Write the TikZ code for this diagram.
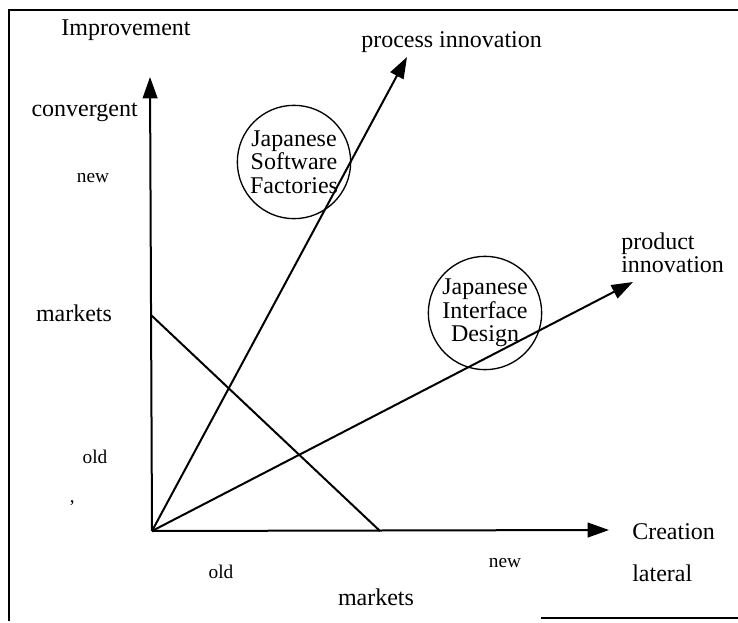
\documentclass[tikz,border=0pt]{standalone}
\usepackage{fontspec}
\setmainfont{Liberation Serif}
\usepackage{tikz}
\usetikzlibrary{positioning, arrows.meta}

\begin{document}
\begin{tikzpicture}[x=0.75pt, y=-0.75pt,
    label/.style={inner sep=0pt, font=\fontsize{18}{17.5}\selectfont},
    tick/.style={inner sep=0pt, font=\fontsize{14.5}{16}\selectfont},
    field/.style={circle, draw, line width=1pt, minimum size=85pt, inner sep=0pt, align=center,
        font=\fontsize{18}{17.5}\selectfont}]
    \useasboundingbox (0,0) rectangle (738,623);

    % frame
    \draw[line width=1pt] (738,10) -- (9,10) -- (9,621);
    \draw[line width=1pt] (541,618) -- (738,618);

    % origin and arrow tips
    \coordinate (O) at (152,531);
    \coordinate (V) at (150,77);
    \coordinate (H) at (609,530);
    \coordinate (P) at (407,57);
    \coordinate (D) at (633,282);
    \coordinate (M1) at (151,315);
    \coordinate (M2) at (380,531);

    \begin{scope}[every node/.style=field]
        \node (SF) at (294,162) {Japanese\\Software\\Factories};
        \node (ID) at (485,313) {Japanese\\Interface\\Design};
    \end{scope}

    \begin{scope}[every edge/.style={draw=black, line width=1.5pt, -{Triangle[length=16pt, width=11pt]}}]
        \path (O) edge (V);
        \path (O) edge (H);
        \path (O) edge (P);
        \path (O) edge (D);
    \end{scope}
    \draw[line width=1.5pt] (M1) -- (M2);

    % axis labels
    \begin{scope}[every node/.style=label]
        \node (imp) at (126,30) {Improvement};
        \node (conv) [anchor=east] at (138,112) {convergent};
        \node (mkt) at (74,313) {markets};
        \node (proc) [anchor=west] at (361,42) {process innovation};
        \node (prod) [align=left, anchor=west] at (621,253) {product\\innovation};
        \node (cre) [anchor=west] at (632,532) {Creation};
        \node (lat) [anchor=west] at (632,573) {lateral};
        \node (mktb) at (376,597) {markets};
    \end{scope}
    \begin{scope}[every node/.style=tick]
        \node (vnew) at (93,178) {new};
        \node (vold) at (95,457) {old};
        \node (hold) at (221,572) {old};
        \node (hnew) at (505,563) {new};
        \node (mark) at (72,507) {'};
    \end{scope}
\end{tikzpicture}
\end{document}
